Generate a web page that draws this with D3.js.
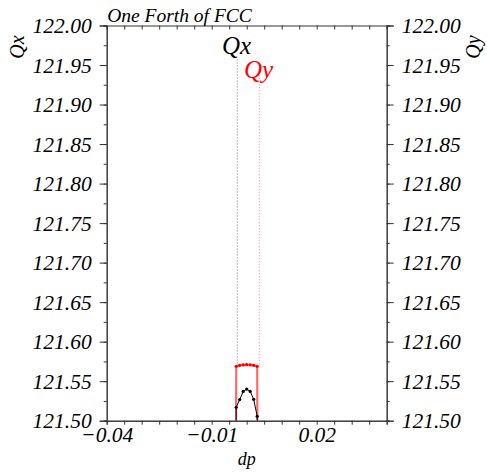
<!DOCTYPE html>
<html>
<head>
<meta charset="utf-8">
<script src="https://cdn.jsdelivr.net/npm/d3@7"></script>
<style>
  body { margin: 0; background: #fff; }
  svg { display: block; }
  text { font-family: "Liberation Serif", "Times New Roman", serif; font-style: italic; }
</style>
</head>
<body>
<svg id="chart" width="487" height="473"></svg>
<script>
// ---- data ----
const dp = [-0.0031, -0.003, -0.002, -0.001, 0.0, 0.001, 0.002, 0.003, 0.0031];
const qx = [121.40, 121.517, 121.5267, 121.537, 121.540, 121.537, 121.527, 121.5056, 121.40];
const qy = [121.40, 121.5688, 121.5700, 121.5706, 121.5709, 121.5706, 121.5700, 121.5688, 121.40];
const xTickLabels = [-0.04, -0.01, 0.02];
const yTickLabels = [121.50, 121.55, 121.60, 121.65, 121.70, 121.75, 121.80, 121.85, 121.90, 121.95, 122.00];
const leaderDp = [-0.0027, 0.0036];      // dotted leader lines (Qx, Qy)
const leaderTop = [121.957, 121.937];
const leaderBottom = 121.5688;
const title = "One Forth of FCC";

// ---- layout ----
const W = 487, H = 473;
const L = 106.7, R = 386.7, T = 25.5, B = 420.7;
const svg = d3.select("#chart");
const x = d3.scaleLinear().domain([-0.04, 0.04]).range([L, R]);
const y = d3.scaleLinear().domain([121.5, 122.0]).range([B, T]);

svg.append("defs").append("clipPath").attr("id", "clip")
  .append("rect").attr("x", L).attr("y", T).attr("width", R - L).attr("height", B - T);

const axisColor = "#333";
const minorX = d3.range(-0.04, 0.04 + 1e-9, 0.005);
const minorY = d3.range(121.5, 122.0 + 1e-9, 0.025);

// bottom axis
const gB = svg.append("g").attr("transform", `translate(0,${B})`)
  .call(d3.axisBottom(x).tickValues(minorX).tickSize(4).tickFormat(""));
const gB2 = svg.append("g").attr("transform", `translate(0,${B})`)
  .call(d3.axisBottom(x).tickValues(xTickLabels).tickSize(0).tickPadding(21)
    .tickFormat(d => d3.format(".2f")(d)));
// top axis
const gT = svg.append("g").attr("transform", `translate(0,${T})`)
  .call(d3.axisTop(x).tickValues(minorX).tickSize(-4).tickFormat(""));
// left axis
const gL = svg.append("g").attr("transform", `translate(${L},0)`)
  .call(d3.axisLeft(y).tickValues(minorY).tickSize(3).tickFormat(""));
const gL2 = svg.append("g").attr("transform", `translate(${L},0)`)
  .call(d3.axisLeft(y).tickValues(yTickLabels).tickSize(7).tickPadding(8)
    .tickFormat(d => d3.format(".2f")(d)));
// right axis
const gR = svg.append("g").attr("transform", `translate(${R},0)`)
  .call(d3.axisRight(y).tickValues(minorY).tickSize(3).tickFormat(""));
const gR2 = svg.append("g").attr("transform", `translate(${R},0)`)
  .call(d3.axisRight(y).tickValues(yTickLabels).tickSize(7).tickPadding(8)
    .tickFormat(d => d3.format(".2f")(d)));

[gB, gB2, gT, gL, gL2, gR, gR2].forEach(g => {
  g.selectAll("path.domain").attr("stroke", axisColor).attr("stroke-width", 1);
  g.selectAll(".tick line").attr("stroke", axisColor);
  g.selectAll("text").attr("fill", "#000").style("font-family", '"Liberation Serif", serif')
    .style("font-style", "italic").style("font-size", "21.5px");
});
gB2.selectAll("text").attr("dy", "0");
gL2.selectAll("text").attr("dy", "0.33em");
gR2.selectAll("text").attr("dy", "0.33em");

// leader lines
const leaderColors = ["#777", "#f08080"];
leaderDp.forEach((d, i) => {
  svg.append("line")
    .attr("x1", x(d)).attr("x2", x(d))
    .attr("y1", y(leaderTop[i])).attr("y2", y(leaderBottom))
    .attr("stroke", leaderColors[i]).attr("stroke-width", 1)
    .attr("stroke-dasharray", "1,2");
});

// data
const plot = svg.append("g").attr("clip-path", "url(#clip)");
const line = d3.line().x((d, i) => x(dp[i])).y(d => y(d));
plot.append("path").datum(qy).attr("d", line)
  .attr("fill", "none").attr("stroke", "#ff6a6a").attr("stroke-width", 2.2);
plot.selectAll("circle.qy").data(qy).join("circle").attr("class", "qy")
  .attr("cx", (d, i) => x(dp[i])).attr("cy", d => y(d)).attr("r", 1.6).attr("fill", "#f00");
plot.append("path").datum(qx).attr("d", line)
  .attr("fill", "none").attr("stroke", "#000").attr("stroke-width", 1);
plot.selectAll("circle.qx").data(qx).join("circle").attr("class", "qx")
  .attr("cx", (d, i) => x(dp[i])).attr("cy", d => y(d)).attr("r", 1.6).attr("fill", "#000");

// text labels
svg.append("text").attr("x", L + 0.5).attr("y", 21.5).attr("font-size", 19.5).text(title);
svg.append("text").attr("x", 222).attr("y", 54).attr("font-size", 25).attr("fill", "#000").text("Qx");
svg.append("text").attr("x", 244).attr("y", 78).attr("font-size", 25).attr("fill", "#f00").text("Qy");
svg.append("text").attr("transform", "translate(24,47) rotate(-90)").attr("text-anchor", "middle")
  .attr("font-size", 20).text("Qx");
svg.append("text").attr("transform", "translate(480,47) rotate(-90)").attr("text-anchor", "middle")
  .attr("font-size", 20).text("Qy");
svg.append("text").attr("x", (L + R) / 2).attr("y", 465).attr("text-anchor", "middle")
  .attr("font-size", 18).text("dp");
</script>
</body>
</html>
